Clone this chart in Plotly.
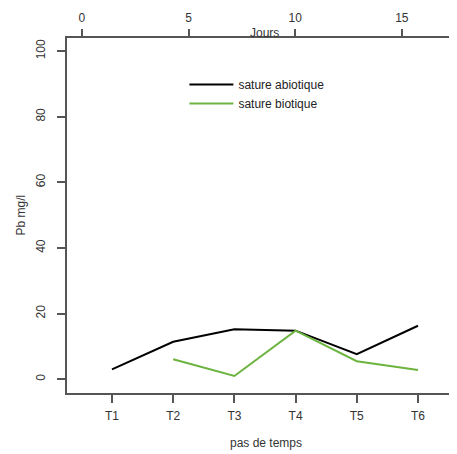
import plotly.graph_objects as go

steps = ["T1", "T2", "T3", "T4", "T5", "T6"]
step_pos = [1, 2, 3, 4, 5, 6]
abiotic = [3.0, 11.4, 15.2, 14.8, 7.6, 16.3]
biotic_steps = [2, 3, 4, 5, 6]
biotic = [6.1, 1.0, 14.8, 5.5, 2.8]
jours_ticks = [0, 5, 10, 15]

font = "Liberation Sans, Arial, sans-serif"
axcol = "#555555"

fig = go.Figure()
fig.add_trace(go.Scatter(x=step_pos, y=abiotic, mode="lines", name="sature abiotique",
                         line=dict(color="black", width=2)))
fig.add_trace(go.Scatter(x=biotic_steps, y=biotic, mode="lines", name="sature biotique",
                         line=dict(color="#6db33f", width=2)))
# invisible trace for top axis
fig.add_trace(go.Scatter(x=jours_ticks, y=[None]*4, xaxis="x2", mode="lines",
                         showlegend=False, hoverinfo="skip"))

fig.update_layout(
    width=457, height=454,
    margin=dict(l=59, r=0, t=30, b=69),
    paper_bgcolor="white", plot_bgcolor="white",
    font=dict(family=font, size=11, color="#333333"),
    showlegend=True,
    legend=dict(x=0.295, y=0.91, xanchor="left", yanchor="top",
                bgcolor="rgba(0,0,0,0)", font=dict(size=12, color="#222222"),
                tracegroupgap=0, itemwidth=44),
    xaxis=dict(range=[0.265, 6.768], tickmode="array", tickvals=step_pos, ticktext=steps,
               automargin=False, ticklabelstandoff=3,
               showgrid=False, zeroline=False, showline=True, linecolor=axcol, linewidth=1.5,
               ticks="outside", ticklen=8, tickcolor=axcol, tickwidth=1.5,
               title=dict(text="pas de temps", standoff=16, font=dict(size=12)),
               tickfont=dict(size=12)),
    xaxis2=dict(range=[-0.70, 17.96], overlaying="x", side="top",
                tickmode="array", tickvals=jours_ticks, automargin=False, ticklabelstandoff=2,
                showgrid=False, zeroline=False, showline=True, linecolor=axcol, linewidth=1.5,
                ticks="outside", ticklen=7, tickcolor=axcol, tickwidth=1.5,
                tickfont=dict(size=12)),
    yaxis=dict(range=[-4.2, 104], tickvals=[0, 20, 40, 60, 80, 100], tickangle=-90,
               automargin=False, ticklabelstandoff=7,
               showgrid=False, zeroline=False, showline=True, linecolor=axcol, linewidth=1.5,
               ticks="outside", ticklen=8, tickcolor=axcol, tickwidth=1.5,
               tickfont=dict(size=12)),
)
fig.add_annotation(text="Pb mg/l", xref="paper", yref="paper", x=0, y=0.5,
                   xanchor="center", yanchor="middle", textangle=-90, xshift=-47,
                   showarrow=False, font=dict(size=12, color="#333333"))
fig.add_annotation(text="Jours", xref="paper", yref="paper", x=0.495, y=1.0,
                   yanchor="bottom", xanchor="center", showarrow=False, yshift=-4,
                   font=dict(size=12, color="#333333"))

fig.write_html("out.html")
